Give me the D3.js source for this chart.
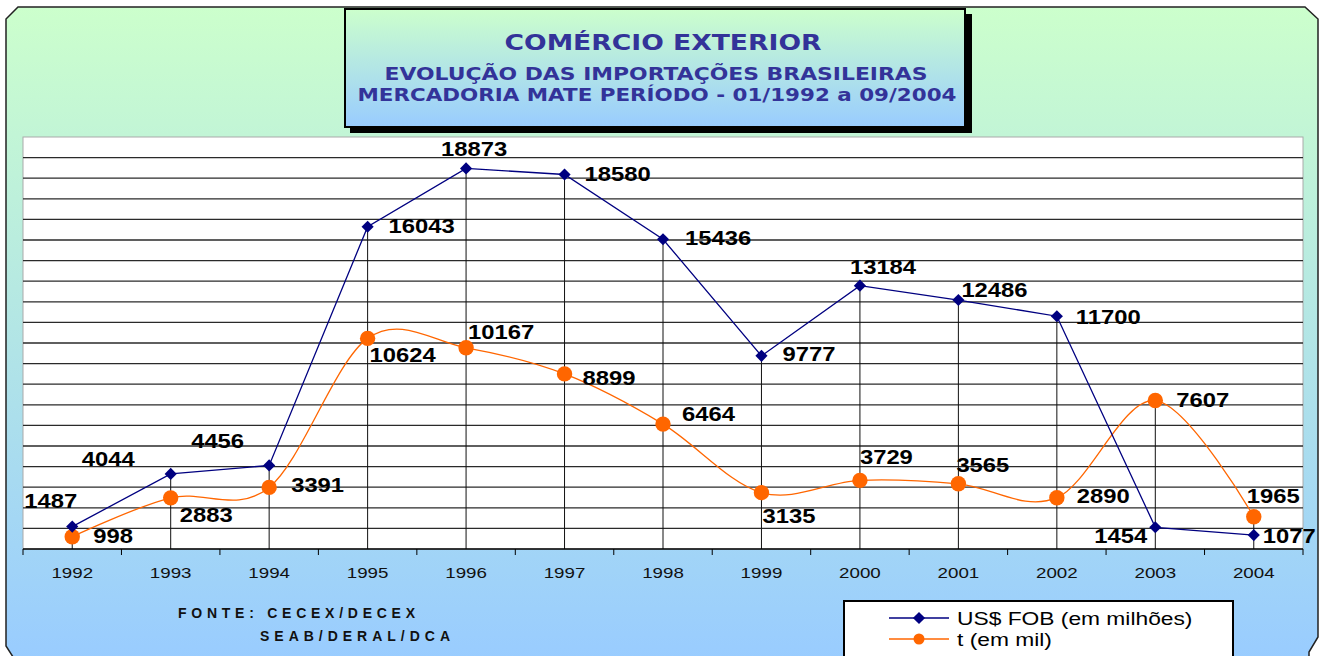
<!DOCTYPE html>
<html>
<head>
<meta charset="utf-8">
<script src="https://cdn.jsdelivr.net/npm/d3@7.9.0/dist/d3.min.js"></script>
<style>
  html, body { margin: 0; padding: 0; background: #fff; }
  svg { display: block; }
</style>
</head>
<body>
<svg id="chart" width="1320" height="656"></svg>
<script>
// ========== Data ==========

const years = ['1992', '1993', '1994', '1995', '1996', '1997', '1998',
               '1999', '2000', '2001', '2002', '2003', '2004'];

// US$ FOB (em milhões)
const fobValues = [1487, 4044, 4456, 16043, 18873, 18580, 15436,
                   9777, 13184, 12486, 11700, 1454, 1077];

// t (em mil)
const tonValues = [998, 2883, 3391, 10624, 10167, 8899, 6464,
                   3135, 3729, 3565, 2890, 7607, 1965];

const seriesNames = ['US$ FOB (em milhões)', 't (em mil)'];

const titleLines = [
  'COMÉRCIO EXTERIOR',
  'EVOLUÇÃO DAS IMPORTAÇÕES BRASILEIRAS',
  'MERCADORIA MATE  PERÍODO - 01/1992 a 09/2004'
];

const sourceLines = ['FONTE: CECEX/DECEX', 'SEAB/DERAL/DCA'];

// label offsets (left edge / baseline relative to the point), placed like the original
const fobLabelOffset = [[-48, -19], [-89, -8], [-78, -17], [21, 6], [-25, -12], [20, 7], [22, 6],
                        [21, 5], [-10, -12], [3, -3], [19, 8], [-61, 16], [9, 8]];
const tonLabelOffset = [[21, 6], [9, 24], [22, 5], [2, 24], [2, -9], [18, 11], [19, -3],
                        [1, 30], [0, -16], [-2, -12], [20, 5], [21, 6], [-7, -14]];

// ========== Setup ==========

const svg = d3.select('#chart');
const defs = svg.append('defs');

const bgGrad = defs.append('linearGradient')
  .attr('id', 'bg-grad').attr('x1', 0).attr('y1', 0).attr('x2', 0).attr('y2', 1);
bgGrad.append('stop').attr('offset', '0%').attr('stop-color', '#ccffcc');
bgGrad.append('stop').attr('offset', '100%').attr('stop-color', '#99ccff');

const plot = { left: 23, right: 1303, top: 137, bottom: 549 };

const x = d3.scaleBand().domain(years).range([plot.left, plot.right]).padding(0);
const y = d3.scaleLinear().domain([400, 20400]).range([plot.bottom, plot.top]);

// text that is stretched horizontally like the original export
function stretchedText(parent, tx, ty, sx, str) {
  return parent.append('text')
    .attr('transform', `translate(${tx},${ty}) scale(${sx},1)`)
    .text(str);
}

// ========== Outer frame ==========

const frame = [[18, 7], [1305, 7], [1318, 19], [1318, 637], [1309, 652],
               [1309, 660], [15, 660], [6, 646], [6, 19]];
svg.append('path')
  .attr('d', d3.line()(frame) + 'Z')
  .attr('fill', 'url(#bg-grad)')
  .attr('stroke', '#222')
  .attr('stroke-width', 1.5);

// ========== Title box ==========

svg.append('rect')
  .attr('x', 350).attr('y', 14).attr('width', 622).attr('height', 119)
  .attr('fill', '#000');
svg.append('rect')
  .attr('x', 345).attr('y', 9).attr('width', 620).attr('height', 118)
  .attr('fill', 'url(#bg-grad)')
  .attr('stroke', '#000').attr('stroke-width', 2);

const titleSpec = [
  { cx: 663, base: 50, size: 22, len: 317 },
  { cx: 656, base: 80, size: 17, len: 543 },
  { cx: 657, base: 101, size: 17, len: 599 }
];
titleLines.forEach((t, i) => {
  const s = titleSpec[i];
  svg.append('text')
    .attr('x', s.cx).attr('y', s.base)
    .attr('text-anchor', 'middle')
    .attr('font-family', '"DejaVu Sans", Verdana, sans-serif')
    .attr('font-weight', 'bold')
    .attr('font-size', s.size)
    .attr('fill', '#333399')
    .attr('textLength', s.len)
    .attr('lengthAdjust', 'spacingAndGlyphs')
    .text(t);
});

// ========== Plot area ==========

svg.append('rect')
  .attr('x', plot.left).attr('y', plot.top)
  .attr('width', plot.right - plot.left).attr('height', plot.bottom - plot.top)
  .attr('fill', '#fff')
  .attr('stroke', '#aaa').attr('stroke-width', 1);

// horizontal gridlines every 1000
const gridValues = d3.range(1400, 20400, 1000);
svg.append('g')
  .selectAll('line')
  .data(gridValues)
  .join('line')
  .attr('x1', plot.left).attr('x2', plot.right)
  .attr('y1', (d) => y(d)).attr('y2', (d) => y(d))
  .attr('stroke', '#2a2a2a')
  .attr('stroke-width', 1.3);

// drop lines from the highest point of each year
const cx = (yr) => x(yr) + x.bandwidth() / 2;
svg.append('g')
  .selectAll('line')
  .data(years)
  .join('line')
  .attr('x1', (d) => cx(d)).attr('x2', (d) => cx(d))
  .attr('y1', (d, i) => y(Math.max(fobValues[i], tonValues[i])))
  .attr('y2', plot.bottom)
  .attr('stroke', '#111')
  .attr('stroke-width', 1);

// x axis
const xAxis = svg.append('g').attr('transform', `translate(0,${plot.bottom})`);
xAxis.append('line')
  .attr('x1', plot.left).attr('x2', plot.right)
  .attr('stroke', '#000').attr('stroke-width', 1.5);
const boundaries = years.map((d) => x(d)).concat([plot.right]);
xAxis.selectAll('.tick-mark')
  .data(boundaries)
  .join('line')
  .attr('class', 'tick-mark')
  .attr('x1', (d) => d).attr('x2', (d) => d)
  .attr('y1', 0).attr('y2', 6)
  .attr('stroke', '#000').attr('stroke-width', 1);

const xLabels = svg.append('g')
  .attr('font-family', '"Liberation Sans", Arial, sans-serif')
  .attr('font-size', 15)
  .attr('fill', '#111')
  .attr('text-anchor', 'middle');
years.forEach((yr) => stretchedText(xLabels, cx(yr), 578, 1.25, yr));

// ========== Series ==========

const fobPoints = years.map((yr, i) => [cx(yr), y(fobValues[i])]);
const tonPoints = years.map((yr, i) => [cx(yr), y(tonValues[i])]);

svg.append('path')
  .attr('d', d3.line().curve(d3.curveCardinal.tension(0))(tonPoints))
  .attr('fill', 'none')
  .attr('stroke', '#ff6600')
  .attr('stroke-width', 1.3);

svg.append('path')
  .attr('d', d3.line()(fobPoints))
  .attr('fill', 'none')
  .attr('stroke', '#000080')
  .attr('stroke-width', 1.3);

const diamond = d3.symbol().type(d3.symbolSquare).size(74);

svg.append('g')
  .selectAll('circle')
  .data(tonPoints)
  .join('circle')
  .attr('cx', (d) => d[0]).attr('cy', (d) => d[1])
  .attr('r', 7.7)
  .attr('fill', '#ff6600');

svg.append('g')
  .selectAll('path')
  .data(fobPoints)
  .join('path')
  .attr('d', diamond)
  .attr('transform', (d) => `translate(${d[0]},${d[1]}) rotate(45)`)
  .attr('fill', '#000080');

// data labels
const labels = svg.append('g')
  .attr('font-family', '"Liberation Sans", Arial, sans-serif')
  .attr('font-weight', 'bold')
  .attr('font-size', 20)
  .attr('fill', '#000');

fobPoints.forEach((p, i) => {
  stretchedText(labels, p[0] + fobLabelOffset[i][0], p[1] + fobLabelOffset[i][1], 1.19, fobValues[i]);
});
tonPoints.forEach((p, i) => {
  stretchedText(labels, p[0] + tonLabelOffset[i][0], p[1] + tonLabelOffset[i][1], 1.19, tonValues[i]);
});

// ========== Source note ==========

const sourceSpec = [
  { x: 178, base: 618, len: 237 },
  { x: 260, base: 641, len: 190 }
];
sourceLines.forEach((t, i) => {
  svg.append('text')
    .attr('x', sourceSpec[i].x).attr('y', sourceSpec[i].base)
    .attr('font-family', '"Liberation Sans", Arial, sans-serif')
    .attr('font-weight', 'bold')
    .attr('font-size', 14)
    .attr('fill', '#111')
    .attr('textLength', sourceSpec[i].len)
    .attr('lengthAdjust', 'spacing')
    .text(t);
});

// ========== Legend ==========

const legend = svg.append('g');
legend.append('rect')
  .attr('x', 844).attr('y', 601).attr('width', 389).attr('height', 70)
  .attr('fill', '#fff')
  .attr('stroke', '#000').attr('stroke-width', 2);

const legendColors = ['#000080', '#ff6600'];
seriesNames.forEach((name, i) => {
  const ly = 618 + i * 21;
  legend.append('line')
    .attr('x1', 889).attr('x2', 949).attr('y1', ly).attr('y2', ly)
    .attr('stroke', legendColors[i]).attr('stroke-width', 1.3);
  if (i === 0) {
    legend.append('path')
      .attr('d', diamond)
      .attr('transform', `translate(919,${ly}) rotate(45)`)
      .attr('fill', legendColors[i]);
  } else {
    legend.append('circle')
      .attr('cx', 919).attr('cy', ly).attr('r', 5.5)
      .attr('fill', legendColors[i]);
  }
  const t = stretchedText(legend, 957, ly + 7, 1.2, name);
  t.attr('font-family', '"Liberation Sans", Arial, sans-serif')
    .attr('font-size', 19)
    .attr('fill', '#000');
});
</script>
</body>
</html>
